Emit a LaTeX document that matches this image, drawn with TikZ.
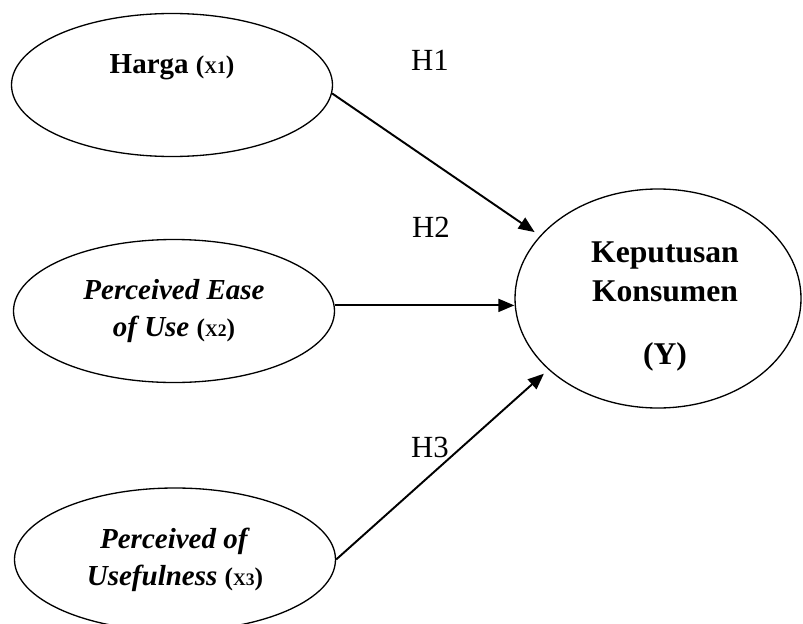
\documentclass[tikz,border=0pt]{standalone}
\usepackage{fontspec}
\setmainfont{Liberation Serif}
\usetikzlibrary{shapes.geometric, arrows.meta}

% small (X1), (X2), (X3) after the variable names
\newcommand{\varid}[1]{\textup{\fontsize{14.5}{16}\selectfont(\fontsize{10}{12}\selectfont X#1\fontsize{14.5}{16}\selectfont)}}

\tikzset{
    varnode/.style={draw, ellipse, line width=0.75pt, inner sep=0pt, align=center,
        minimum width=6.42cm, minimum height=2.86cm,
        font=\fontsize{16.5}{21}\selectfont\bfseries},
    vartext/.style={align=center, font=\fontsize{16.5}{21}\selectfont\bfseries},
    hyplabel/.style={font=\fontsize{17.5}{20}\selectfont},
    arr/.style={-{Triangle[length=0.32cm, width=0.26cm]}, line width=1.1pt}
}

\begin{document}
\begin{tikzpicture}

    \useasboundingbox (0, 0) rectangle (16.06, 12.46);

    % Independent variables on the left
    \node[varnode] (harga) at (3.44, 10.76) {};
    \node[vartext] (hargatext) at (3.44, 11.12) {Harga \varid{1}};
    \node[varnode] (ease) at (3.48, 6.24) {\textit{Perceived Ease}\\ \textit{of Use} \varid{2}};
    \node[varnode] (useful) at (3.50, 1.27) {\textit{Perceived of}\\ \textit{Usefulness} \varid{3}};

    % Dependent variable on the right
    \node[varnode, minimum width=5.72cm, minimum height=4.38cm] (kep) at (13.16, 6.49) {};
    \node[vartext, font=\fontsize{18}{22}\selectfont\bfseries] (keptext) at (13.30, 6.33)
        {Keputusan\\ Konsumen\\[0.48cm] (Y)};

    % Hypotheses
    \draw[arr, shorten >=0.13cm] (harga.-3) -- (kep.152);
    \draw[arr] (ease.2) -- (ease.2 -| kep.west);
    \draw[arr, shorten >=0.12cm] (useful.east) -- (kep.213);

    \node[hyplabel] (h1) at (8.60, 11.26) {H1};
    \node[hyplabel] (h2) at (8.62, 7.92) {H2};
    \node[hyplabel] (h3) at (8.60, 3.52) {H3};

\end{tikzpicture}
\end{document}
